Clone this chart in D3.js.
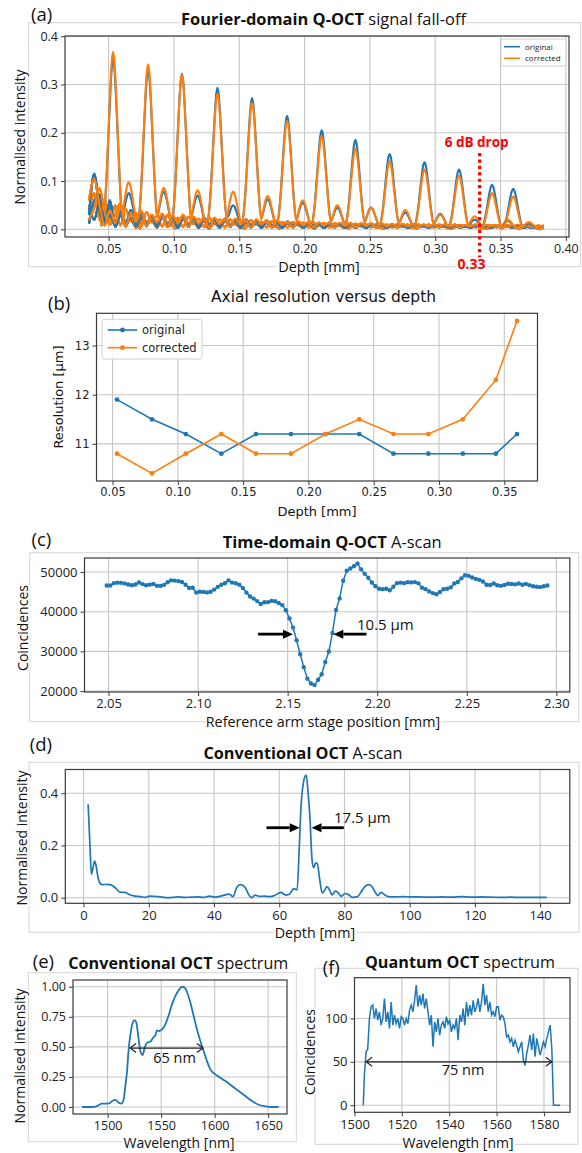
<!DOCTYPE html>
<html>
<head>
<meta charset="utf-8">
<script src="https://cdn.jsdelivr.net/npm/d3@7"></script>
<style>
  body { margin: 0; background: #fff; }
</style>
</head>
<body>
<div id="fig"></div>
<script>
// ---- (a)/(b) Fourier-domain scans: one A-scan per depth ----
const scanDepth = [0.0534, 0.0802, 0.1061, 0.1333, 0.1598, 0.1866, 0.2131, 0.2389, 0.2651, 0.2918, 0.3182, 0.3435, 0.3597];
const peakOrig = [0.352, 0.330, 0.322, 0.293, 0.272, 0.235, 0.205, 0.185, 0.156, 0.139, 0.124, 0.092, 0.084];
const peakCorr = [0.367, 0.342, 0.320, 0.281, 0.262, 0.225, 0.193, 0.167, 0.141, 0.124, 0.111, 0.075, 0.068];
const echoDepth = [0.0654, 0.0922, 0.1181, 0.1453, 0.1718, 0.1986, 0.2251, 0.2509, 0.2771, 0.3038, 0.3302, 0.3555, 0.3717];
const echoOrig = [0.075, 0.078, 0.070, 0.050, 0.062, 0.055, 0.045, 0.045, 0.035, 0.032, 0.020, 0.018, 0.012];
const echoCorr = [0.098, 0.086, 0.081, 0.078, 0.069, 0.060, 0.050, 0.045, 0.040, 0.030, 0.027, 0.020, 0.015];
// peak profile (offset in mm, relative height)
const peakOffset = [-0.009, -0.007, -0.005, -0.0035, -0.002, -0.001, 0, 0.001, 0.002, 0.0035, 0.005, 0.007, 0.009];
const peakShape = [0.02, 0.08, 0.30, 0.56, 0.82, 0.95, 1, 0.95, 0.82, 0.56, 0.30, 0.08, 0.02];
// low-level background of the scans, 0.035 .. 0.383 mm every 0.004 mm
const floorDepth = d3.range(88).map(i => 0.035 + 0.004 * i);
const floorOrigA = [0.030, 0.115, 0.040, 0.012, 0.030, 0.008, 0.035, 0.010, 0.040, 0.006, 0.032, 0.012, 0.028, 0.005, 0.030, 0.010, 0.025, 0.004, 0.026, 0.009,
  0.022, 0.004, 0.024, 0.010, 0.020, 0.005, 0.022, 0.008, 0.018, 0.004, 0.020, 0.009, 0.016, 0.004, 0.018, 0.008, 0.014, 0.004, 0.016, 0.007,
  0.013, 0.004, 0.014, 0.007, 0.012, 0.003, 0.013, 0.006, 0.011, 0.004, 0.012, 0.006, 0.010, 0.003, 0.011, 0.006, 0.010, 0.004, 0.010, 0.005,
  0.009, 0.004, 0.010, 0.005, 0.008, 0.004, 0.009, 0.005, 0.008, 0.004, 0.009, 0.005, 0.008, 0.004, 0.008, 0.005, 0.008, 0.004, 0.008, 0.005,
  0.007, 0.004, 0.008, 0.005, 0.007, 0.004, 0.007, 0.005];
const floorOrigB = [0.012, 0.060, 0.072, 0.020, 0.045, 0.015, 0.038, 0.006, 0.030, 0.014, 0.036, 0.008, 0.026, 0.012, 0.030, 0.006, 0.022, 0.012, 0.026, 0.005,
  0.024, 0.010, 0.020, 0.004, 0.022, 0.010, 0.018, 0.005, 0.020, 0.009, 0.017, 0.004, 0.018, 0.009, 0.015, 0.004, 0.016, 0.008, 0.014, 0.004,
  0.014, 0.007, 0.012, 0.003, 0.013, 0.007, 0.011, 0.004, 0.012, 0.006, 0.010, 0.003, 0.011, 0.006, 0.010, 0.004, 0.010, 0.005, 0.009, 0.004,
  0.010, 0.005, 0.009, 0.004, 0.009, 0.005, 0.008, 0.004, 0.009, 0.005, 0.008, 0.004, 0.008, 0.005, 0.008, 0.004, 0.007, 0.005, 0.008, 0.004,
  0.007, 0.005, 0.007, 0.004, 0.007, 0.005, 0.006, 0.004];
const floorOrigC = [0.045, 0.020, 0.055, 0.010, 0.060, 0.005, 0.028, 0.016, 0.022, 0.004, 0.025, 0.015, 0.020, 0.004, 0.024, 0.013, 0.018, 0.003, 0.021, 0.012,
  0.016, 0.003, 0.019, 0.011, 0.015, 0.003, 0.017, 0.010, 0.013, 0.003, 0.015, 0.009, 0.012, 0.003, 0.013, 0.008, 0.011, 0.003, 0.012, 0.008,
  0.010, 0.003, 0.011, 0.007, 0.009, 0.003, 0.010, 0.006, 0.009, 0.003, 0.009, 0.006, 0.008, 0.003, 0.009, 0.005, 0.008, 0.003, 0.008, 0.005,
  0.007, 0.003, 0.008, 0.005, 0.007, 0.003, 0.007, 0.005, 0.007, 0.003, 0.007, 0.004, 0.006, 0.003, 0.007, 0.004, 0.006, 0.003, 0.006, 0.004,
  0.006, 0.003, 0.006, 0.004, 0.005, 0.003, 0.006, 0.004];
const floorCorrA = [0.060, 0.105, 0.050, 0.008, 0.040, 0.012, 0.045, 0.006, 0.035, 0.015, 0.038, 0.006, 0.030, 0.014, 0.032, 0.005, 0.028, 0.012, 0.030, 0.005,
  0.026, 0.012, 0.025, 0.004, 0.024, 0.011, 0.022, 0.005, 0.022, 0.010, 0.020, 0.004, 0.020, 0.010, 0.018, 0.004, 0.018, 0.009, 0.016, 0.004,
  0.016, 0.008, 0.015, 0.004, 0.014, 0.008, 0.014, 0.004, 0.013, 0.007, 0.013, 0.004, 0.012, 0.007, 0.012, 0.004, 0.012, 0.006, 0.011, 0.004,
  0.011, 0.006, 0.011, 0.004, 0.010, 0.006, 0.010, 0.004, 0.010, 0.006, 0.010, 0.004, 0.009, 0.006, 0.010, 0.004, 0.009, 0.006, 0.009, 0.004,
  0.009, 0.005, 0.009, 0.004, 0.009, 0.005, 0.008, 0.005];
const floorCorrB = [0.040, 0.075, 0.020, 0.062, 0.012, 0.050, 0.008, 0.042, 0.016, 0.034, 0.006, 0.036, 0.014, 0.028, 0.006, 0.030, 0.012, 0.024, 0.005, 0.026,
  0.011, 0.022, 0.005, 0.024, 0.010, 0.020, 0.004, 0.021, 0.010, 0.018, 0.004, 0.019, 0.009, 0.016, 0.004, 0.017, 0.008, 0.015, 0.004, 0.015,
  0.008, 0.014, 0.004, 0.014, 0.007, 0.013, 0.004, 0.013, 0.007, 0.012, 0.004, 0.012, 0.006, 0.011, 0.004, 0.011, 0.006, 0.010, 0.004, 0.011,
  0.006, 0.010, 0.004, 0.010, 0.006, 0.010, 0.004, 0.010, 0.005, 0.009, 0.004, 0.009, 0.005, 0.009, 0.004, 0.009, 0.005, 0.009, 0.004, 0.008,
  0.005, 0.008, 0.004, 0.008, 0.005, 0.008, 0.004, 0.008];
const floorCorrC = [0.020, 0.045, 0.085, 0.035, 0.010, 0.030, 0.055, 0.012, 0.028, 0.004, 0.030, 0.016, 0.022, 0.004, 0.025, 0.014, 0.019, 0.004, 0.022, 0.013,
  0.017, 0.004, 0.020, 0.012, 0.016, 0.004, 0.018, 0.011, 0.014, 0.004, 0.016, 0.010, 0.013, 0.004, 0.014, 0.009, 0.012, 0.004, 0.013, 0.008,
  0.011, 0.004, 0.012, 0.008, 0.010, 0.004, 0.011, 0.007, 0.010, 0.004, 0.010, 0.007, 0.009, 0.004, 0.010, 0.006, 0.009, 0.004, 0.009, 0.006,
  0.008, 0.004, 0.009, 0.006, 0.008, 0.004, 0.008, 0.006, 0.008, 0.004, 0.008, 0.005, 0.008, 0.004, 0.008, 0.005, 0.007, 0.004, 0.007, 0.005,
  0.007, 0.004, 0.007, 0.005, 0.007, 0.004, 0.007, 0.005];
const dropDepth = 0.334, dropTop = 0.158;

const resOrig = [11.9, 11.5, 11.2, 10.8, 11.2, 11.2, 11.2, 11.2, 10.8, 10.8, 10.8, 10.8, 11.2];
const resCorr = [10.8, 10.4, 10.8, 11.2, 10.8, 10.8, 11.2, 11.5, 11.2, 11.2, 11.5, 12.3, 13.5];

// ---- (c) time-domain A-scan, stage step 0.002 mm ----
const tdPos = d3.range(124).map(i => 2.049 + 0.002 * i);
const tdCoinc = [46620, 46600, 47210, 47320, 47270, 47140, 46840, 46690, 46860, 47350,
  46960, 46650, 46820, 47000, 46540, 46510, 46770, 47430, 47900, 47840,
  47710, 47500, 46790, 45990, 46050, 44810, 45030, 44990, 44870, 45020,
  45570, 46260, 46790, 47190, 47900, 47340, 47170, 46820, 45950, 44820,
  43840, 43300, 42670, 41960, 42380, 42410, 42740, 42620, 42210, 41670,
  40370, 38300, 36000, 32790, 29270, 26030, 23130, 21910, 21500, 22860,
  24240, 27330, 29960, 34660, 40450, 43350, 47820, 50350, 50880, 51480,
  52140, 50670, 49540, 48550, 47370, 46400, 45800, 45680, 45800, 45420,
  46280, 47200, 47340, 47200, 47450, 47390, 47460, 47150, 46040, 45690,
  45120, 44690, 44390, 44950, 45670, 45800, 46130, 47100, 47490, 48410,
  49190, 49040, 48610, 48270, 48030, 47620, 46780, 46720, 47110, 46670,
  46520, 46720, 47040, 47000, 46900, 47100, 46800, 47000, 46700, 46400,
  46300, 46200, 46400, 46600];
const tdArrowY = 34350, tdArrowL = [2.1335, 2.153], tdArrowR = [2.194, 2.1755];

// ---- (d) conventional A-scan ----
const convDepth = [1.4, 2.0, 2.4, 2.9, 3.4, 3.8, 4.4, 5.1, 5.8, 7.0,
  8.1, 8.8, 9.9, 11.2, 12.7, 14.2, 15.8, 17.5, 18.8, 20.3,
  22.9, 25.9, 29.0, 31.0, 33.0, 35.0, 37.0, 38.5, 40.5, 42.3,
  44.7, 45.8, 47.0, 48.1, 49.5, 50.5, 51.5, 52.6, 54.0, 55.5,
  57.0, 58.5, 60.5, 62.0, 63.0, 64.5, 65.5, 66.1, 66.7, 67.4,
  67.9, 68.3, 68.8, 69.4, 70.1, 70.6, 71.2, 71.7, 72.4, 73.2,
  74.0, 74.6, 75.5, 76.2, 77.2, 78.0, 79.0, 80.2, 81.2, 82.5,
  84.0, 85.4, 86.5, 87.5, 88.6, 89.5, 90.2, 91.2, 92.2, 93.5,
  95.5, 98, 100, 103, 106, 110, 113, 116, 119, 122,
  125, 128, 131, 134, 137, 140, 142];
const convInt = [0.358, 0.19, 0.09, 0.115, 0.14, 0.125, 0.08, 0.055, 0.05, 0.051,
  0.05, 0.047, 0.036, 0.021, 0.02, 0.011, 0.006, 0.004, 0.001, 0.006,
  0.004, 0.0, 0.003, 0.001, 0.002, 0.003, 0.001, 0.006, 0.002, 0.007,
  0.014, 0.004, 0.04, 0.05, 0.04, 0.015, 0.0, 0.01, 0.005, 0.006,
  0.004, 0.008, 0.02, 0.01, 0.012, 0.035, 0.03, 0.18, 0.355, 0.44,
  0.465, 0.47, 0.41, 0.31, 0.14, 0.115, 0.133, 0.13, 0.07, 0.018,
  0.03, 0.042, 0.028, 0.011, 0.025, 0.02, 0.005, 0.016, 0.012, 0.001,
  0.004, 0.028, 0.046, 0.05, 0.04, 0.02, 0.008, 0.02, 0.012, 0.004,
  0.003, 0.004, 0.003, 0.003, 0.002, 0.003, 0.002, 0.004, 0.002, 0.003,
  0.002, 0.001, 0.002, 0.001, 0.001, 0.001, 0.001];
const convArrowY = 0.268, convArrowL = [56.1, 66.3], convArrowR = [79.8, 69.9];

// ---- (e) conventional spectrum ----
const eWave = [1476, 1485.4, 1490, 1494.7, 1499.4, 1502.5, 1505.6, 1507.8, 1510.3, 1512.8,
  1515, 1516.5, 1518, 1519.6, 1521.2, 1523.4, 1525.2, 1526.8, 1529, 1530.5,
  1532.7, 1534.6, 1536.8, 1539.9, 1542.4, 1544.5, 1546.1, 1548.3, 1550.8, 1553.9,
  1557, 1560.1, 1563.2, 1566.4, 1569.5, 1572, 1574.1, 1577.3, 1580.4, 1583.5,
  1586.6, 1589.7, 1592.8, 1596, 1600.6, 1605.3, 1610, 1616.2, 1622.4, 1628.7,
  1634.9, 1641.1, 1647.4, 1653.6, 1659.8];
const eInt = [0, 0, 0.008, 0.028, 0.028, 0.036, 0.058, 0.058, 0.036, 0.028,
  0.064, 0.175, 0.285, 0.48, 0.6, 0.70, 0.723, 0.70, 0.56, 0.465,
  0.432, 0.493, 0.535, 0.543, 0.576, 0.596, 0.637, 0.632, 0.645, 0.687,
  0.762, 0.853, 0.922, 0.972, 1.0, 0.992, 0.956, 0.867, 0.756, 0.645,
  0.548, 0.465, 0.382, 0.313, 0.271, 0.244, 0.216, 0.175, 0.133, 0.091,
  0.05, 0.019, 0.006, 0, 0];
const eSpan = [1521, 1589], eLevel = 0.49;

// ---- (f) quantum spectrum ----
const fWave = [1503.7].concat(d3.range(118).map(k => 1504.17 + 0.7067 * k));
const fCoinc = [0,
  34.6, 61.5, 64.6, 100, 113.5, 115.4, 100, 111.5, 98, 107.7,
  92.3, 100, 123, 96, 107.7, 88.5, 119, 92.3, 103.8, 94,
  100, 88.5, 102, 100, 92.3, 100, 94, 109.6, 115.4, 107.7,
  121, 138.5, 113.5, 127, 115.4, 128.8, 111.5, 123, 107.7, 92.3,
  103.8, 67.3, 96, 84.6, 100, 80.8, 92.3, 96, 88.5, 102,
  94, 98, 84.6, 92.3, 88.5, 100, 75, 103.8, 96, 111.5,
  92.3, 119, 102, 115.4, 103.8, 121, 107.7, 113.5, 123, 107.7,
  119, 140, 115.4, 127, 107.7, 119, 103.8, 107.7, 102, 113.5,
  113.5, 98, 103.8, 102, 94, 78.8, 80.8, 73, 77, 67.3,
  75, 69.2, 61.5, 67.3, 73, 52, 46, 59.6, 69.2, 80.8,
  63.5, 82.7, 55.8, 77, 67.3, 57.7, 65.4, 73, 67.3, 77,
  84.6, 92.3, 65.4, 0, 0, 0, 0, 0];
const fSpan = [1504.9, 1583.3], fLevel = 50;

// ---------------------------------------------------------------
const blue = '#1f77b4', orange = '#ff7f0e';
const gridCol = '#c6c6c6', spineCol = '#3a3a3a', frameCol = '#d4d4d4';
const sans = '"Open Sans", "Noto Sans", sans-serif';
const dejavu = '"DejaVu Sans", sans-serif';

const svg = d3.select('#fig').append('svg')
  .attr('width', 582).attr('height', 1153)
  .style('font-family', sans);

// light frames around the pasted sub-figures
[[28.6, 22.7, 552, 244], [29.7, 552.7, 549, 169], [29, 762.3, 550, 170],
 [28.3, 972.7, 268, 169], [315, 968.3, 263, 176]].forEach(r => {
  svg.append('rect').attr('x', r[0]).attr('y', r[1]).attr('width', r[2]).attr('height', r[3])
    .attr('fill', 'none').attr('stroke', frameCol).attr('stroke-width', 1);
});

function makeAxes(o) {
  const x = d3.scaleLinear().domain(o.xDomain).range([o.left, o.right]);
  const y = d3.scaleLinear().domain(o.yDomain).range([o.bottom, o.top]);
  const g = svg.append('g').style('font-family', o.font);
  const grid = g.append('g').attr('stroke', gridCol).attr('stroke-width', 1.1);
  grid.selectAll('line.gx').data(o.xTicks).join('line').attr('class', 'gx')
    .attr('x1', d => x(d)).attr('x2', d => x(d)).attr('y1', o.top).attr('y2', o.bottom);
  grid.selectAll('line.gy').data(o.yTicks).join('line').attr('class', 'gy')
    .attr('y1', d => y(d)).attr('y2', d => y(d)).attr('x1', o.left).attr('x2', o.right);
  const plot = g.append('g');
  const ax = g.append('g').attr('transform', `translate(0,${o.bottom})`)
    .call(d3.axisBottom(x).tickValues(o.xTicks).tickFormat(o.xFmt).tickSizeInner(4).tickSizeOuter(0).tickPadding(3));
  const ay = g.append('g').attr('transform', `translate(${o.left},0)`)
    .call(d3.axisLeft(y).tickValues(o.yTicks).tickFormat(o.yFmt).tickSizeInner(4).tickSizeOuter(0).tickPadding(3));
  [ax, ay].forEach(a => {
    a.select('.domain').remove();
    a.selectAll('line').attr('stroke', spineCol);
    a.selectAll('text').attr('fill', '#222').style('font-size', o.tick + 'px').style('font-family', o.font);
  });
  g.append('rect').attr('x', o.left).attr('y', o.top)
    .attr('width', o.right - o.left).attr('height', o.bottom - o.top)
    .attr('fill', 'none').attr('stroke', spineCol).attr('stroke-width', 1.2);
  return { x, y, g, plot };
}

function label(x, y, s, size, opts = {}) {
  const t = svg.append('text').attr('x', x).attr('y', y)
    .attr('text-anchor', opts.anchor || 'start')
    .style('font-size', size + 'px').style('font-family', opts.font || sans)
    .attr('fill', opts.fill || '#111')
    .attr('stroke', '#fff').attr('stroke-width', opts.halo === 0 ? 0 : 4).attr('paint-order', 'stroke');
  if (opts.weight) t.style('font-weight', opts.weight);
  if (opts.rotate) t.attr('transform', `rotate(-90,${x},${y})`);
  if (opts.bold) {
    t.append('tspan').style('font-weight', 'bold').text(opts.bold);
    t.append('tspan').text(s);
  } else t.text(s);
  if (opts.len) t.attr('textLength', opts.len).attr('lengthAdjust', 'spacingAndGlyphs');
  return t;
}

function solidArrow(g, x1, x2, y) {
  const dir = Math.sign(x2 - x1), hl = 10, hw = 4.5;
  g.append('line').attr('x1', x1).attr('x2', x2 - dir * hl).attr('y1', y).attr('y2', y)
    .attr('stroke', '#000').attr('stroke-width', 2.8);
  g.append('path').attr('d', `M${x2},${y}L${x2 - dir * hl},${y - hw}L${x2 - dir * hl},${y + hw}Z`).attr('fill', '#000');
}

function spanArrow(g, x1, x2, y) {
  g.append('line').attr('x1', x1).attr('x2', x2).attr('y1', y).attr('y2', y)
    .attr('stroke', '#222').attr('stroke-width', 1.2);
  g.append('path').attr('d', `M${x1 + 6},${y - 4.5}L${x1},${y}L${x1 + 6},${y + 4.5}M${x2 - 6},${y - 4.5}L${x2},${y}L${x2 - 6},${y + 4.5}`)
    .attr('fill', 'none').attr('stroke', '#222').attr('stroke-width', 1.2);
}

const f2 = d3.format('.2f'), f1 = d3.format('.1f'), fd = d3.format('d');

// ================= (a) =================
const A = makeAxes({
  left: 65, right: 569, top: 36, bottom: 237,
  xDomain: [0.0166, 0.4024], yDomain: [-0.0159, 0.4005],
  xTicks: [0.05, 0.10, 0.15, 0.20, 0.25, 0.30, 0.35, 0.40], yTicks: [0, 0.1, 0.2, 0.3, 0.4],
  xFmt: f2, yFmt: f1, font: sans, tick: 12.5
});
const floorsOrig = [floorOrigA, floorOrigB, floorOrigC];
const floorsCorr = [floorCorrA, floorCorrB, floorCorrC];

function scanPoints(j, peakH, echoH, floor) {
  const lo = scanDepth[j] + peakOffset[0];
  const hi = echoDepth[j] + peakOffset[peakOffset.length - 1];
  const pts = [];
  floorDepth.forEach((d, i) => { if (d < lo || d > hi) pts.push([d, floor[i]]); });
  peakOffset.forEach((o, k) => { if (o <= 0.007) pts.push([scanDepth[j] + o, peakH[j] * peakShape[k]]); });
  peakOffset.forEach((o, k) => { if (o >= -0.0035) pts.push([echoDepth[j] + o, echoH[j] * peakShape[k]]); });
  return pts.sort((a, b) => a[0] - b[0]);
}
const lineA = d3.line().x(d => A.x(d[0])).y(d => A.y(d[1])).curve(d3.curveMonotoneX);
scanDepth.forEach((d, j) => {
  A.plot.append('path').attr('d', lineA(scanPoints(j, peakOrig, echoOrig, floorsOrig[j % 3])))
    .attr('fill', 'none').attr('stroke', blue).attr('stroke-width', 2.1);
  A.plot.append('path').attr('d', lineA(scanPoints(j, peakCorr, echoCorr, floorsCorr[j % 3])))
    .attr('fill', 'none').attr('stroke', orange).attr('stroke-width', 2.1);
});
// legend (a)
const legA = A.g.append('g');
legA.append('rect').attr('x', 501).attr('y', 39).attr('width', 65).attr('height', 27).attr('rx', 2)
  .attr('fill', '#fff').attr('fill-opacity', 0.85).attr('stroke', '#d0d0d0');
[['original', blue, 46.7], ['corrected', orange, 58.3]].forEach(([t, c, yy]) => {
  legA.append('line').attr('x1', 504).attr('x2', 520).attr('y1', yy).attr('y2', yy).attr('stroke', c).attr('stroke-width', 1.6);
  legA.append('text').attr('x', 525).attr('y', yy + 2.8).style('font-size', '8px').attr('fill', '#222').text(t);
});
// 6 dB marker
svg.append('line').attr('x1', A.x(dropDepth)).attr('x2', A.x(dropDepth))
  .attr('y1', A.y(dropTop)).attr('y2', 258)
  .attr('stroke', '#f00').attr('stroke-width', 3.2).attr('stroke-dasharray', '3.2,3.2');
label(444.7, 147, '6 dB drop', 13.5, { fill: '#f00', weight: 'bold', halo: 0 });
label(471.5, 269, '0.33', 14, { fill: '#f00', weight: 'bold', anchor: 'middle' });
label(31, 21, '(a)', 18.5, { halo: 0 });
label(181, 25, ' signal fall-off', 16, { bold: 'Fourier-domain Q-OCT', len: 285 });
label(319, 272, 'Depth [mm]', 14.5, { anchor: 'middle' });
label(25, 137, 'Normalised intensity', 14, { anchor: 'middle', rotate: true });

// ================= (b) =================
const B = makeAxes({
  left: 96.5, right: 537.5, top: 313.3, bottom: 481,
  xDomain: [0.0377, 0.3754], yDomain: [10.245, 13.655],
  xTicks: [0.05, 0.10, 0.15, 0.20, 0.25, 0.30, 0.35], yTicks: [11, 12, 13],
  xFmt: f2, yFmt: fd, font: dejavu, tick: 11.5
});
const lineB = d3.line().x((d, i) => B.x(scanDepth[i])).y(d => B.y(d));
[[resOrig, blue], [resCorr, orange]].forEach(([s, c]) => {
  B.plot.append('path').attr('d', lineB(s)).attr('fill', 'none').attr('stroke', c).attr('stroke-width', 1.6);
  B.plot.selectAll(null).data(s).join('circle')
    .attr('cx', (d, i) => B.x(scanDepth[i])).attr('cy', d => B.y(d)).attr('r', 2.4).attr('fill', c);
});
const legB = B.g.append('g').style('font-family', dejavu);
legB.append('rect').attr('x', 102).attr('y', 319.3).attr('width', 100).attr('height', 39.7).attr('rx', 2.5)
  .attr('fill', '#fff').attr('fill-opacity', 0.85).attr('stroke', '#d0d0d0');
[['original', blue, 330], ['corrected', orange, 347.7]].forEach(([t, c, yy]) => {
  legB.append('line').attr('x1', 107.6).attr('x2', 137.3).attr('y1', yy).attr('y2', yy).attr('stroke', c).attr('stroke-width', 1.6);
  legB.append('circle').attr('cx', 122.5).attr('cy', yy).attr('r', 2.4).attr('fill', c);
  legB.append('text').attr('x', 142).attr('y', yy + 4).style('font-size', '11.5px').attr('fill', '#222').text(t);
});
label(48, 310, '(b)', 18.5, { halo: 0 });
label(323.5, 302, 'Axial resolution versus depth', 15, { anchor: 'middle', font: dejavu, len: 225 });
label(317, 516, 'Depth [mm]', 13, { anchor: 'middle', font: dejavu });
label(63, 397, 'Resolution [µm]', 13, { anchor: 'middle', font: dejavu, rotate: true });

// ================= (c) =================
const C = makeAxes({
  left: 84.5, right: 569.8, top: 558, bottom: 692,
  xDomain: [2.0366, 2.3075], yDomain: [19765, 53535],
  xTicks: [2.05, 2.10, 2.15, 2.20, 2.25, 2.30], yTicks: [20000, 30000, 40000, 50000],
  xFmt: f2, yFmt: fd, font: sans, tick: 13
});
const lineC = d3.line().x((d, i) => C.x(tdPos[i])).y(d => C.y(d));
C.plot.append('path').attr('d', lineC(tdCoinc)).attr('fill', 'none').attr('stroke', blue).attr('stroke-width', 1.5);
C.plot.selectAll(null).data(tdCoinc).join('circle')
  .attr('cx', (d, i) => C.x(tdPos[i])).attr('cy', d => C.y(d)).attr('r', 2.2).attr('fill', blue);
solidArrow(C.g, C.x(tdArrowL[0]), C.x(tdArrowL[1]), C.y(tdArrowY));
solidArrow(C.g, C.x(tdArrowR[0]), C.x(tdArrowR[1]), C.y(tdArrowY));
label(357, 630, '10.5 µm', 15, { halo: 0 });
label(31.5, 546, '(c)', 18.5, { halo: 0 });
label(222.7, 548, ' A-scan', 15.5, { bold: 'Time-domain Q-OCT', len: 219 });
label(323, 727, 'Reference arm stage position [mm]', 14.3, { anchor: 'middle' });
label(27.5, 628, 'Coincidences', 14, { anchor: 'middle', rotate: true });

// ================= (d) =================
const D = makeAxes({
  left: 65.3, right: 569.8, top: 769.5, bottom: 903.3,
  xDomain: [-5.6, 149.1], yDomain: [-0.0215, 0.491],
  xTicks: [0, 20, 40, 60, 80, 100, 120, 140], yTicks: [0, 0.2, 0.4],
  xFmt: fd, yFmt: f1, font: sans, tick: 13
});
const lineD = d3.line().x((d, i) => D.x(convDepth[i])).y(d => D.y(d)).curve(d3.curveMonotoneX);
D.plot.append('path').attr('d', lineD(convInt)).attr('fill', 'none').attr('stroke', blue).attr('stroke-width', 1.7);
solidArrow(D.g, D.x(convArrowL[0]), D.x(convArrowL[1]), D.y(convArrowY));
solidArrow(D.g, D.x(convArrowR[0]), D.x(convArrowR[1]), D.y(convArrowY));
label(334, 823.3, '17.5 µm', 15, { halo: 0 });
label(29.7, 751, '(d)', 18.5, { halo: 0 });
label(203.4, 759, ' A-scan', 15.5, { bold: 'Conventional OCT', len: 199 });
label(315, 938, 'Depth [mm]', 14.3, { anchor: 'middle' });
label(27, 838, 'Normalised intensity', 14, { anchor: 'middle', rotate: true });

// ================= (e) =================
const E = makeAxes({
  left: 73, right: 287, top: 980, bottom: 1114,
  xDomain: [1467.6, 1667.6], yDomain: [-0.058, 1.056],
  xTicks: [1500, 1550, 1600, 1650], yTicks: [0, 0.25, 0.5, 0.75, 1],
  xFmt: fd, yFmt: f2, font: sans, tick: 12.5
});
const lineE = d3.line().x((d, i) => E.x(eWave[i])).y(d => E.y(d)).curve(d3.curveMonotoneX);
E.plot.append('path').attr('d', lineE(eInt)).attr('fill', 'none').attr('stroke', blue).attr('stroke-width', 1.8);
spanArrow(E.g, E.x(eSpan[0]), E.x(eSpan[1]), E.y(eLevel));
label(174.5, 1063, '65 nm', 14.5, { anchor: 'middle', halo: 0 });
label(32.7, 968, '(e)', 18.5, { halo: 0 });
label(68.3, 969, ' spectrum', 16.5, { bold: 'Conventional OCT', len: 220 });
label(179, 1148, 'Wavelength [nm]', 14, { anchor: 'middle' });
label(25, 1056, 'Normalised intensity', 14, { anchor: 'middle', rotate: true });

// ================= (f) =================
const F = makeAxes({
  left: 354.5, right: 570, top: 977.7, bottom: 1112.3,
  xDomain: [1500, 1591], yDomain: [-8.2, 147],
  xTicks: [1500, 1520, 1540, 1560, 1580], yTicks: [0, 50, 100],
  xFmt: fd, yFmt: fd, font: sans, tick: 13
});
const lineF = d3.line().x((d, i) => F.x(fWave[i])).y(d => F.y(d));
F.plot.append('path').attr('d', lineF(fCoinc)).attr('fill', 'none').attr('stroke', blue).attr('stroke-width', 1.5);
spanArrow(F.g, F.x(fSpan[0]), F.x(fSpan[1]), F.y(fLevel));
label(463, 1075, '75 nm', 14.5, { anchor: 'middle', halo: 0 });
label(322.7, 974, '(f)', 18.5, { halo: 0 });
label(365, 968, ' spectrum', 16.5, { bold: 'Quantum OCT', len: 190 });
label(458, 1148, 'Wavelength [nm]', 14, { anchor: 'middle' });
label(315, 1052, 'Coincidences', 14, { anchor: 'middle', rotate: true });
</script>
</body>
</html>
